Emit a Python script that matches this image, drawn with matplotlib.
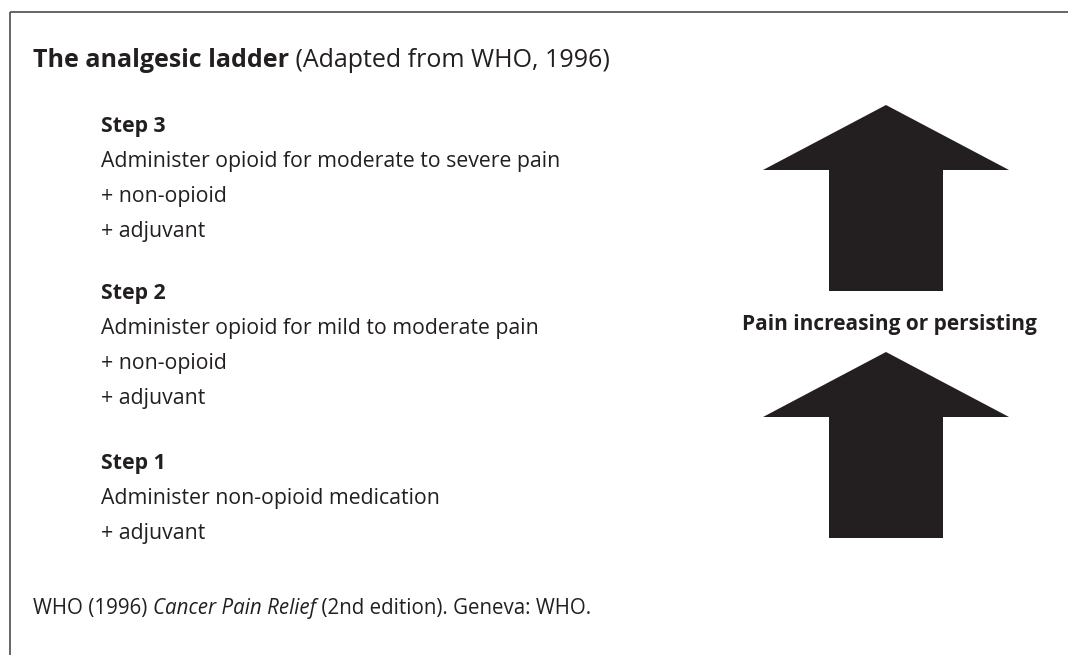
import matplotlib
matplotlib.use("Agg")
import matplotlib.pyplot as plt
from matplotlib.patches import Polygon

# text content
title_bold = "The analgesic ladder"
title_rest = " (Adapted from WHO, 1996)"
step_titles = ["Step 3", "Step 2", "Step 1"]
step_lines = [
    ["Administer opioid for moderate to severe pain", "+ non-opioid", "+ adjuvant"],
    ["Administer opioid for mild to moderate pain", "+ non-opioid", "+ adjuvant"],
    ["Administer non-opioid medication", "+ adjuvant"],
]
arrow_label = "Pain increasing or persisting"
ref_parts = [("WHO (1996) ", "normal"), ("Cancer Pain Relief", "italic"),
             (" (2nd edition). Geneva: WHO.", "normal")]

ink = "#231f20"
font = "Open Sans"

W, H = 1068, 655
fig = plt.figure(figsize=(W / 100, H / 100), dpi=100)
ax = fig.add_axes([0, 0, 1, 1])
ax.set_xlim(0, W)
ax.set_ylim(H, 0)
ax.axis("off")
renderer = fig.canvas.get_renderer()


def run_text(x, y, parts, size):
    # write consecutive pieces of text on one baseline
    for s, style, weight in parts:
        t = ax.text(x, y, s, fontsize=size, family=font, style=style,
                    weight=weight, color=ink, va="baseline", ha="left")
        bb = t.get_window_extent(renderer)
        x = ax.transData.inverted().transform((bb.x1, bb.y0))[0]


# frame: only top and left edges show
ax.plot([10, W + 5], [12, 12], color="#4d4d4d", lw=1.2, solid_capstyle="butt")
ax.plot([10, 10], [12, H + 5], color="#4d4d4d", lw=1.2, solid_capstyle="butt")

run_text(33, 67, [(title_bold, "normal", "bold"), (title_rest, "normal", "normal")], 18)

body = 15.3
left = 101
block_top = [132, 299, 469]
line_gap = 35
for top, head, lines in zip(block_top, step_titles, step_lines):
    ax.text(left, top, head, fontsize=body, family=font, weight="bold",
            color=ink, va="baseline")
    for i, ln in enumerate(lines):
        ax.text(left, top + line_gap * (i + 1), ln, fontsize=body, family=font,
                color=ink, va="baseline")

run_text(33, 614, [(s, st, "normal") for s, st in ref_parts], 14.8)

# arrows
cx = 886
head_half, shaft_half = 123, 57
for tip, base, bottom in [(105, 170, 291), (352, 417, 538)]:
    pts = [(cx, tip), (cx + head_half, base), (cx + shaft_half, base),
           (cx + shaft_half, bottom), (cx - shaft_half, bottom),
           (cx - shaft_half, base), (cx - head_half, base)]
    ax.add_patch(Polygon(pts, closed=True, color=ink, lw=0))

ax.text(cx + 3, 330, arrow_label, fontsize=15, family=font, weight="bold",
        color=ink, ha="center", va="baseline")

fig.savefig("out.png", dpi=100, facecolor="white")
